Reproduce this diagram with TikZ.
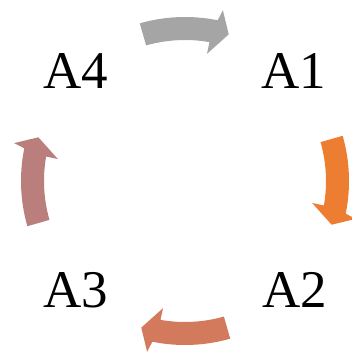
\documentclass[tikz,border=0pt]{standalone}
\usepackage{fontspec}
\setmainfont{Liberation Serif}
\definecolor{arrowgray}{HTML}{A5A5A5}
\definecolor{arroworange}{HTML}{ED7D31}
\definecolor{arrowrust}{HTML}{D27A5B}
\definecolor{arrowrose}{HTML}{BA7F7C}
\tikzset{
  label/.style={font=\fontsize{53}{60}\selectfont, anchor=base, inner sep=0pt},
  cycarrow/.style={fill=#1, draw=none}
}
% one curved block arrow of the cycle, drawn around the origin
\newcommand{\cyclearrow}[2]{%
  \path[cycarrow=#1, rotate=#2]
    (106:164) arc[start angle=106, end angle=78.5, radius=164]
    -- (77.5:175) -- (73.4:153) -- (80.2:129) -- (80:141)
    arc[start angle=80, end angle=106, radius=141] -- cycle;}
\begin{document}
\begin{tikzpicture}[x=1pt,y=1pt]
  \useasboundingbox (-185,-171) rectangle (166,181);
  \node[label] (a4) at (-109,92) {A4};
  \node[label] (a1) at (109,92) {A1};
  \node[label] (a2) at (110,-126) {A2};
  \node[label] (a3) at (-109,-126) {A3};
  \cyclearrow{arrowgray}{0}
  \cyclearrow{arroworange}{-90}
  \cyclearrow{arrowrust}{180}
  \cyclearrow{arrowrose}{90}
\end{tikzpicture}
\end{document}
